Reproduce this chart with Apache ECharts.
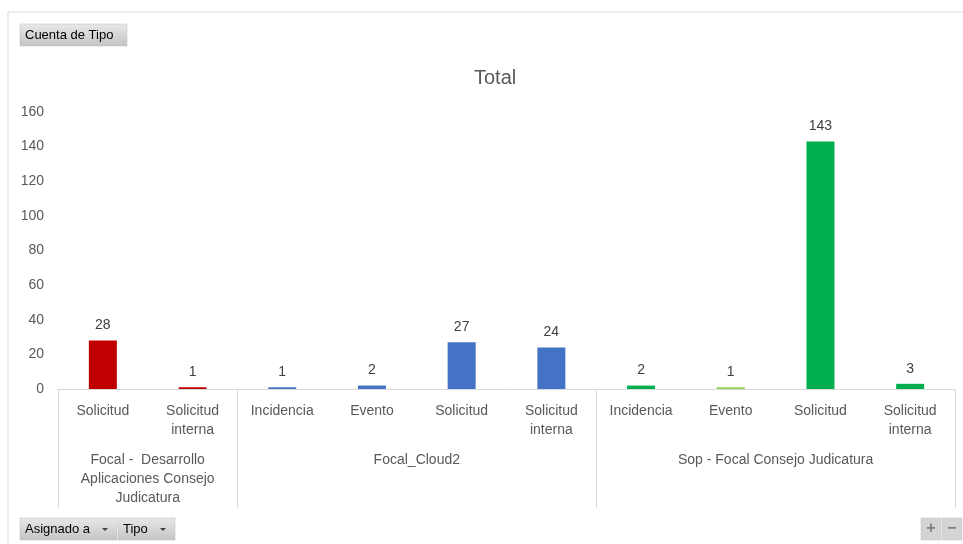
<!DOCTYPE html>
<html><head><meta charset="utf-8">
<script src="https://cdn.jsdelivr.net/npm/echarts@6/dist/echarts.min.js"></script>
<style>html,body{margin:0;padding:0;background:#fff}#c{width:963px;height:544px}</style>
</head><body><div id="c"></div>
<script>
const categories = ['Solicitud','Solicitud\ninterna','Incidencia','Evento','Solicitud','Solicitud\ninterna','Incidencia','Evento','Solicitud','Solicitud\ninterna'];
const values = [28, 1, 1, 2, 27, 24, 2, 1, 143, 3];
const groups = ['Focal -  Desarrollo\nAplicaciones Consejo\nJudicatura', 'Focal_Cloud2', 'Sop - Focal Consejo Judicatura'];
const groupSizes = [2, 4, 4];
const yTicks = [0, 20, 40, 60, 80, 100, 120, 140, 160];
const barColors = ['#C00000','#C00000','#4472C4','#4472C4','#4472C4','#4472C4','#00B050','#92D050','#00B050','#00B050'];

const bounds = [0]; groupSizes.forEach(s => bounds.push(bounds[bounds.length-1] + s));
const centers = groupSizes.map((s, i) => bounds[i] + s / 2);
const font = 'Liberation Sans, Arial, sans-serif';

function button(x, y, w, label, arrow) {
  const children = [{
    type: 'rect', shape: {x: 0, y: 0, width: w, height: 22},
    style: {fill: new echarts.graphic.LinearGradient(0,0,0,1,[{offset:0,color:'#e8e8e8'},{offset:1,color:'#c4c4c4'}]), stroke: '#bdbdbd', lineWidth: 0.5}
  }, {
    type: 'text', style: {x: 5, y: 11, text: label, fill: '#000', font: '13px ' + font, verticalAlign: 'middle'}
  }];
  if (arrow) children.push({type: 'polygon', shape: {points: [[w-15,10],[w-9,10],[w-12,13]]}, style: {fill: '#404040'}});
  return {type: 'group', x: x, y: y, children: children};
}

const chart = echarts.init(document.getElementById('c'), null, {renderer: 'canvas'});
chart.setOption({
  animation: false,
  title: {text: 'Total', left: 469, top: 63, textStyle: {fontFamily: font, fontSize: 20, fontWeight: 'normal', color: '#595959'}},
  grid: {left: 58, right: 8, top: 112, bottom: 155, containLabel: false},
  xAxis: [{
    type: 'category', data: categories, position: 'bottom',
    axisLine: {lineStyle: {color: '#d9d9d9', width: 1}},
    axisTick: {show: false},
    axisLabel: {interval: 0, color: '#595959', fontSize: 14, fontFamily: font, margin: 13, lineHeight: 19}
  }, {
    type: 'value', min: 0, max: bounds[bounds.length-1], position: 'bottom',
    axisLine: {show: false}, splitLine: {show: false},
    axisTick: {show: true, customValues: bounds, length: 119, lineStyle: {color: '#d9d9d9', width: 1}},
    axisLabel: {show: true, customValues: centers, margin: 62, color: '#595959', fontSize: 14, fontFamily: font, lineHeight: 19,
      formatter: v => { const i = centers.indexOf(v); return i >= 0 ? groups[i] : ''; }}
  }],
  yAxis: {
    type: 'value', min: yTicks[0], max: yTicks[yTicks.length-1], interval: yTicks[1] - yTicks[0],
    axisLine: {show: false}, axisTick: {show: false}, splitLine: {show: false},
    axisLabel: {color: '#595959', fontSize: 14, fontFamily: font, margin: 14}
  },
  series: [{
    type: 'bar', xAxisIndex: 0, barWidth: 28,
    data: values.map((v, i) => ({value: v, itemStyle: {color: barColors[i]}})),
    label: {show: true, position: 'top', distance: 8, color: '#404040', fontSize: 14, fontFamily: font}
  }],
  graphic: [
    {type: 'line', shape: {x1: 8, y1: 12, x2: 963, y2: 12}, style: {stroke: '#d9d9d9', lineWidth: 1}},
    {type: 'line', shape: {x1: 8, y1: 12, x2: 8, y2: 544}, style: {stroke: '#d9d9d9', lineWidth: 1}},
    button(20, 24, 107, 'Cuenta de Tipo', false),
    button(20, 518, 97, 'Asignado a', true),
    button(118, 518, 57, 'Tipo', true),
    {type: 'group', x: 921, y: 518, children: [
      {type: 'rect', shape: {x: 0, y: 0, width: 20, height: 22}, style: {fill: '#d4d4d4', stroke: '#c4c4c4', lineWidth: 0.5}},
      {type: 'rect', shape: {x: 21, y: 0, width: 20, height: 22}, style: {fill: '#d4d4d4', stroke: '#c4c4c4', lineWidth: 0.5}},
      {type: 'text', style: {x: 10, y: 11, text: '+', fill: '#7f7f7f', font: 'bold 16px ' + font, align: 'center', verticalAlign: 'middle'}},
      {type: 'text', style: {x: 31, y: 11, text: '−', fill: '#7f7f7f', font: 'bold 16px ' + font, align: 'center', verticalAlign: 'middle'}}
    ]}
  ]
});
</script></body></html>
